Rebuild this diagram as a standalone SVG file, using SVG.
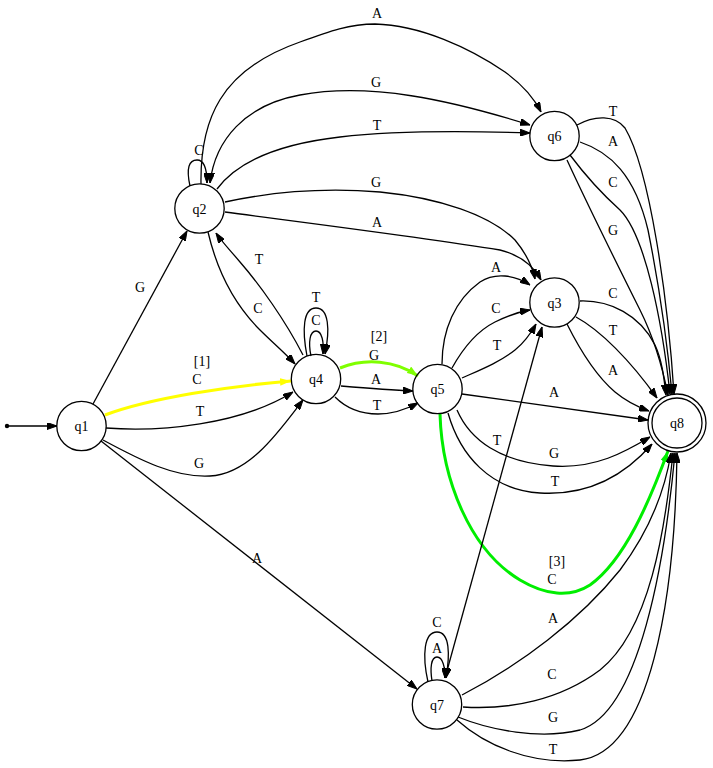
<svg xmlns="http://www.w3.org/2000/svg" width="713" height="768" viewBox="0 0 713 768">
<style>
.n{fill:none;stroke:#000;stroke-width:1.3}
.e{fill:none;stroke:#000;stroke-width:1.3}
.t{font-family:"Liberation Serif","Times New Roman",serif;font-size:14px;text-anchor:middle;fill:#000}
</style>
<defs>
<marker id="a" viewBox="0 0 10 7" refX="10" refY="3.5" markerWidth="10" markerHeight="7" markerUnits="userSpaceOnUse" orient="auto-start-reverse"><path d="M0,0L10,3.5L0,7z" fill="#000" stroke="#000" stroke-width="1"/></marker>
<marker id="ay" viewBox="0 0 10 7" refX="10" refY="3.5" markerWidth="11" markerHeight="8" markerUnits="userSpaceOnUse" orient="auto"><path d="M0,0L10,3.5L0,7z" fill="#ff0"/></marker>
<marker id="ac" viewBox="0 0 10 7" refX="10" refY="3.5" markerWidth="11" markerHeight="8" markerUnits="userSpaceOnUse" orient="auto"><path d="M0,0L10,3.5L0,7z" fill="#7fff00"/></marker>
<marker id="ag" viewBox="0 0 10 7" refX="10" refY="3.5" markerWidth="11" markerHeight="8" markerUnits="userSpaceOnUse" orient="auto"><path d="M0,0L10,3.5L0,7z" fill="#00ee00"/></marker>
</defs>
<rect width="713" height="768" fill="#fff"/>
<g id="edges">
<circle cx="7" cy="426" r="2.2" fill="#000"/>
<path class="e" d="M7,426L57,426" marker-end="url(#a)"/>
<!-- q1 -> q2 G -->
<path class="e" d="M93,404L187,231" marker-end="url(#a)"/>
<text class="t" x="140" y="292">G</text>
<!-- q1 -> q4 C yellow -->
<path d="M105,415C150,398 230,386 291,381" fill="none" stroke="#ff0" stroke-width="3" marker-end="url(#ay)"/>
<text class="t" x="202" y="366">[1]</text>
<text class="t" x="197" y="384">C</text>
<!-- q1 -> q4 T -->
<path class="e" d="M106,428C160,432 240,425 293,392" marker-end="url(#a)"/>
<text class="t" x="200" y="416">T</text>
<!-- q1 -> q4 G -->
<path class="e" d="M103,440C140,460 175,478 210,476C250,474 280,430 303,400" marker-end="url(#a)"/>
<text class="t" x="199" y="468">G</text>
<!-- q1 -> q7 A -->
<path class="e" d="M101,441L417,689" marker-end="url(#a)"/>
<text class="t" x="257" y="563">A</text>
<!-- q2 loop C -->
<path class="e" d="M190,186C186,168 189,160 197,160C204,160 207,168 207,183" marker-end="url(#a)"/>
<text class="t" x="199" y="155">C</text>
<!-- q2 -> q4 C -->
<path class="e" d="M208,232C215,262 230,300 260,330C272,342 285,353 295,364" marker-end="url(#a)"/>
<text class="t" x="258" y="313">C</text>
<!-- q4 -> q2 T -->
<path class="e" d="M303,355C285,320 260,285 240,262C230,250 222,242 216,233" marker-end="url(#a)"/>
<text class="t" x="259" y="264">T</text>
<!-- q2 -> q6 A -->
<path class="e" d="M201,184C200,120 220,70 300,42C330,31 350,24 375,24C420,25 470,48 505,72C523,85 535,100 541,112" marker-end="url(#a)"/>
<text class="t" x="377" y="18">A</text>
<!-- q2 <-> q6 G -->
<path class="e" d="M210,183C215,140 245,105 300,95C370,82 450,100 530,125" marker-start="url(#a)" marker-end="url(#a)"/>
<text class="t" x="376" y="87">G</text>
<!-- q2 -> q6 T -->
<path class="e" d="M217,189C235,165 270,145 340,137C400,130 470,131 530,133" marker-end="url(#a)"/>
<text class="t" x="377" y="130">T</text>
<!-- q2 -> q3 G -->
<path class="e" d="M225,202C280,190 330,188 380,192C440,198 490,215 515,240C525,252 532,265 535,279" marker-end="url(#a)"/>
<text class="t" x="376" y="187">G</text>
<!-- q2 -> q3 A -->
<path class="e" d="M225,212C300,222 420,237 500,250C520,255 533,265 541,280" marker-end="url(#a)"/>
<text class="t" x="377" y="227">A</text>
<!-- q4 loops -->
<path class="e" d="M307,356C302,330 303,308 316,308C329,308 330,330 325,354" marker-end="url(#a)"/>
<path class="e" d="M311,356C308,342 310,331 316,331C322,331 324,342 323,354" marker-end="url(#a)"/>
<text class="t" x="316" y="302">T</text>
<text class="t" x="316" y="325">C</text>
<!-- q4 -> q5 G chartreuse -->
<path d="M340,368C365,358 395,360 418,376" fill="none" stroke="#7fff00" stroke-width="3" marker-end="url(#ac)"/>
<text class="t" x="379" y="341">[2]</text>
<text class="t" x="374" y="360">G</text>
<!-- q4 -> q5 A -->
<path class="e" d="M341,386C365,388 390,390 413,391" marker-end="url(#a)"/>
<text class="t" x="376" y="384">A</text>
<!-- q4 -> q5 T -->
<path class="e" d="M335,397C345,407 360,414 378,414C392,414 405,410 418,403" marker-end="url(#a)"/>
<text class="t" x="377" y="410">T</text>
<!-- q5 -> q3 -->
<path class="e" d="M442,364C442,330 455,300 480,282C495,272 515,275 530,285" marker-end="url(#a)"/>
<text class="t" x="496" y="272">A</text>
<path class="e" d="M452,368C462,350 475,332 495,322C507,316 518,312 530,310" marker-end="url(#a)"/>
<text class="t" x="496" y="313">C</text>
<path class="e" d="M462,378C480,370 500,362 515,350C525,342 531,333 536,324" marker-end="url(#a)"/>
<text class="t" x="497" y="350">T</text>
<!-- q5 -> q8 -->
<path class="e" d="M462,394L648,420" marker-end="url(#a)"/>
<text class="t" x="554" y="397">A</text>
<path class="e" d="M457,410C470,440 500,462 553,466C595,469 625,452 650,437" marker-end="url(#a)"/>
<text class="t" x="554" y="458">G</text>
<path class="e" d="M448,413C460,455 490,490 540,493C590,496 625,475 652,444" marker-end="url(#a)"/>
<text class="t" x="555" y="486">T</text>
<!-- q5 -> q8 C green -->
<path d="M440,414C442,480 470,550 520,580C545,595 570,598 590,585C625,560 650,500 668,451" fill="none" stroke="#00ee00" stroke-width="3" marker-end="url(#ag)"/>
<text class="t" x="557" y="566">[3]</text>
<text class="t" x="552" y="584">C</text>
<!-- q3 <-> q7 T -->
<path class="e" d="M542,327L445,678" marker-start="url(#a)" marker-end="url(#a)"/>
<text class="t" x="497" y="445">T</text>
<!-- q6 -> q8 -->
<path class="e" d="M577,125C595,115 615,115 625,128C650,170 668,300 674,394" marker-end="url(#a)"/>
<text class="t" x="613" y="116">T</text>
<path class="e" d="M580,142C610,152 635,175 648,230C660,290 668,350 672,394" marker-end="url(#a)"/>
<text class="t" x="613" y="146">A</text>
<path class="e" d="M570,155C585,175 600,192 620,210C645,235 662,320 670,394" marker-end="url(#a)"/>
<text class="t" x="613" y="187">C</text>
<path class="e" d="M567,160C590,210 620,270 640,310C655,340 663,370 668,395" marker-end="url(#a)"/>
<text class="t" x="613" y="235">G</text>
<!-- q3 -> q8 -->
<path class="e" d="M580,301C610,300 640,315 655,345C662,360 664,378 666,395" marker-end="url(#a)"/>
<text class="t" x="613" y="298">C</text>
<path class="e" d="M576,317C600,330 630,360 657,398" marker-end="url(#a)"/>
<text class="t" x="613" y="335">T</text>
<path class="e" d="M567,324C580,350 595,375 615,392C627,402 638,407 649,411" marker-end="url(#a)"/>
<text class="t" x="613" y="375">A</text>
<!-- q7 -> q8 -->
<path class="e" d="M462,695C520,665 580,620 620,570C650,530 665,490 671,453" marker-end="url(#a)"/>
<text class="t" x="553" y="623">A</text>
<path class="e" d="M463,707C510,710 560,700 600,670C650,630 665,530 673,453" marker-end="url(#a)"/>
<text class="t" x="552" y="679">C</text>
<path class="e" d="M458,717C490,730 540,740 580,730C640,712 665,560 675,453" marker-end="url(#a)"/>
<text class="t" x="553" y="722">G</text>
<path class="e" d="M457,720C485,745 530,765 580,760C650,752 675,600 677,453" marker-end="url(#a)"/>
<text class="t" x="553" y="754">T</text>
<!-- q7 loops -->
<path class="e" d="M428,682C422,655 424,632 437,632C450,632 450,655 446,678" marker-end="url(#a)"/>
<path class="e" d="M432,681C430,668 431,657 437,657C443,657 445,668 445,678" marker-end="url(#a)"/>
<text class="t" x="437" y="627">C</text>
<text class="t" x="437" y="653">A</text>
</g>
<g id="q1"><circle class="n" cx="81.5" cy="426" r="24.7"/><text class="t" x="81.5" y="431">q1</text></g>
<g id="q2"><circle class="n" cx="199.5" cy="208.5" r="24.7"/><text class="t" x="199.5" y="213.5">q2</text></g>
<g id="q4"><circle class="n" cx="316" cy="379" r="24.7"/><text class="t" x="316" y="384">q4</text></g>
<g id="q5"><circle class="n" cx="437.5" cy="389" r="24.7"/><text class="t" x="437.5" y="394">q5</text></g>
<g id="q3"><circle class="n" cx="554.5" cy="302.5" r="24.7"/><text class="t" x="554.5" y="307.5">q3</text></g>
<g id="q6"><circle class="n" cx="554.5" cy="136" r="24.7"/><text class="t" x="554.5" y="141">q6</text></g>
<g id="q7"><circle class="n" cx="437" cy="704.5" r="24.7"/><text class="t" x="437" y="709.5">q7</text></g>
<g id="q8"><circle class="n" cx="677" cy="423" r="29"/><circle class="n" cx="677" cy="423" r="25"/><text class="t" x="677" y="428">q8</text></g>
</svg>
